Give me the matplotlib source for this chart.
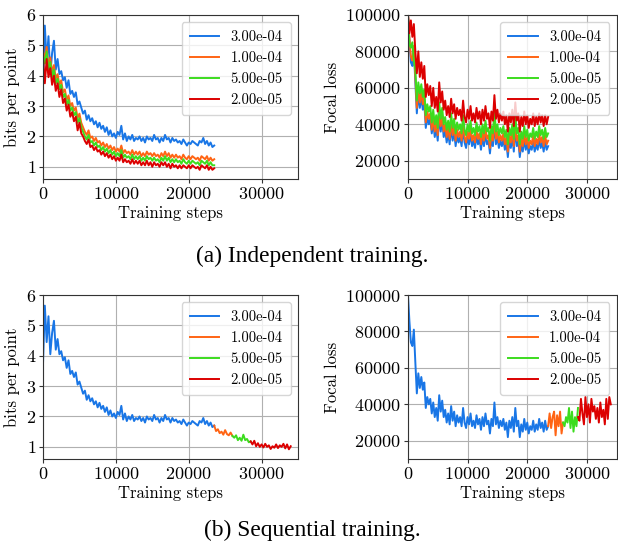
"""
Bits per point and focal loss during training
=============================================
Independent training (one run per learning rate) against sequential training
(one run, learning rate lowered step by step).
"""

import numpy as np
import matplotlib.pyplot as plt

plt.rcParams['font.family'] = 'serif'
plt.rcParams['font.serif'] = ['cmr10', 'DejaVu Serif']
plt.rcParams['mathtext.fontset'] = 'cm'
plt.rcParams['axes.formatter.use_mathtext'] = True

# %%
# Data (one value every 250 steps)

learning_rates = ['3.00e-04', '1.00e-04', '5.00e-05', '2.00e-05']
colors = ['#1976e6', '#ff6414', '#3cdc1e', '#dc0000']

steps = np.arange(0, 23501, 250)

bpp_3e4 = [3.75, 5.65, 4.45, 5.30, 4.05, 4.75, 5.15, 4.20, 4.55, 4.05, 4.15, 3.85, 3.95, 3.60, 3.85, 3.40,
           3.50, 3.30, 3.45, 3.05, 3.15, 2.95, 2.75, 2.85, 2.55, 2.70, 2.50, 2.60, 2.40, 2.50, 2.30, 2.45,
           2.25, 2.35, 2.15, 2.30, 2.05, 2.20, 2.00, 2.10, 1.95, 2.15, 2.05, 2.35, 1.90, 2.10, 1.85, 2.00,
           1.90, 2.05, 1.85, 1.95, 1.90, 2.00, 1.85, 1.95, 1.80, 2.00, 1.90, 1.95, 1.85, 2.05, 1.90, 1.95,
           1.80, 1.95, 1.85, 2.05, 1.90, 1.95, 1.80, 1.95, 1.85, 1.90, 1.80, 1.85, 1.75, 1.90, 1.80, 1.70,
           1.80, 1.75, 1.85, 1.80, 1.75, 1.70, 1.85, 1.80, 1.95, 1.75, 1.85, 1.70, 1.80, 1.65, 1.70]
bpp_1e4 = [4.85, 4.50, 4.95, 4.30, 4.60, 4.10, 4.35, 3.90, 4.05, 3.70, 3.85, 3.45, 3.55, 3.20, 3.35, 3.00,
           3.10, 2.85, 2.95, 2.60, 2.75, 2.45, 2.30, 2.15, 2.05, 2.20, 1.95, 2.00, 1.85, 1.95, 1.80, 1.85,
           1.70, 1.80, 1.65, 1.75, 1.60, 1.70, 1.55, 1.65, 1.50, 1.60, 1.50, 1.70, 1.45, 1.55, 1.45, 1.50,
           1.40, 1.55, 1.40, 1.50, 1.40, 1.50, 1.35, 1.45, 1.35, 1.50, 1.40, 1.45, 1.35, 1.45, 1.35, 1.40,
           1.30, 1.45, 1.35, 1.50, 1.35, 1.45, 1.30, 1.40, 1.30, 1.40, 1.30, 1.35, 1.25, 1.40, 1.30, 1.25,
           1.35, 1.25, 1.35, 1.30, 1.25, 1.30, 1.20, 1.35, 1.30, 1.25, 1.35, 1.20, 1.30, 1.20, 1.25]
bpp_5e5 = [4.70, 4.40, 4.80, 4.15, 4.45, 3.95, 4.20, 3.75, 3.90, 3.55, 3.70, 3.30, 3.40, 3.05, 3.20, 2.85,
           2.95, 2.70, 2.80, 2.45, 2.60, 2.30, 2.15, 2.00, 1.90, 2.05, 1.80, 1.85, 1.70, 1.80, 1.65, 1.70,
           1.55, 1.65, 1.50, 1.60, 1.45, 1.55, 1.40, 1.50, 1.35, 1.45, 1.35, 1.55, 1.30, 1.40, 1.30, 1.35,
           1.25, 1.40, 1.25, 1.35, 1.25, 1.35, 1.20, 1.30, 1.20, 1.35, 1.25, 1.30, 1.20, 1.30, 1.20, 1.25,
           1.15, 1.30, 1.20, 1.35, 1.20, 1.30, 1.15, 1.25, 1.15, 1.25, 1.15, 1.20, 1.10, 1.25, 1.15, 1.10,
           1.20, 1.10, 1.20, 1.15, 1.10, 1.15, 1.05, 1.20, 1.15, 1.10, 1.20, 1.05, 1.15, 1.05, 1.05]
bpp_2e5 = [4.60, 3.75, 4.55, 3.95, 4.25, 3.70, 4.00, 3.50, 3.75, 3.30, 3.55, 3.10, 3.25, 2.85, 3.05, 2.65,
           2.80, 2.50, 2.65, 2.20, 2.45, 2.10, 2.00, 1.85, 1.75, 1.90, 1.65, 1.70, 1.55, 1.65, 1.50, 1.55,
           1.40, 1.50, 1.35, 1.45, 1.30, 1.40, 1.25, 1.35, 1.20, 1.30, 1.20, 1.40, 1.15, 1.25, 1.15, 1.20,
           1.10, 1.25, 1.10, 1.20, 1.10, 1.20, 1.05, 1.15, 1.05, 1.20, 1.05, 1.15, 1.00, 1.15, 1.05, 1.10,
           1.00, 1.15, 1.05, 1.15, 1.00, 1.10, 0.95, 1.10, 1.00, 1.05, 0.95, 1.05, 0.95, 1.05, 1.00, 0.95,
           1.05, 0.95, 1.05, 1.00, 0.95, 1.00, 0.90, 1.05, 1.00, 0.95, 1.05, 0.90, 1.00, 0.90, 0.95]

focal_3e4 = [101000, 86000, 74000, 72000, 81000, 63000, 46000, 57000, 49000, 55000, 48000, 52000,
             38000, 44000, 40000, 43000, 35000, 41000, 33000, 38000, 31000, 45000, 36000, 42000,
             33000, 37000, 30000, 35000, 29000, 39000, 31000, 36000, 28000, 34000, 30000, 33000,
             28000, 38000, 30000, 27000, 33000, 29000, 35000, 28000, 31000, 27000, 34000, 29000,
             32000, 26000, 33000, 28000, 35000, 29000, 31000, 24000, 32000, 28000, 41000, 29000,
             33000, 27000, 31000, 28000, 32000, 26000, 30000, 22000, 31000, 27000, 33000, 25000,
             38000, 28000, 31000, 22000, 29000, 25000, 32000, 26000, 30000, 24000, 28000, 26000,
             31000, 25000, 29000, 26000, 32000, 27000, 30000, 25000, 31000, 26000, 28000]
focal_1e4 = [101000, 88000, 77000, 75000, 83000, 66000, 49000, 60000, 52000, 58000, 51000, 55000,
             41000, 47000, 43000, 46000, 37000, 44000, 36000, 41000, 34000, 48000, 39000, 45000,
             36000, 40000, 33000, 38000, 32000, 42000, 34000, 39000, 31000, 37000, 33000, 36000,
             31000, 41000, 33000, 30000, 36000, 32000, 38000, 31000, 34000, 30000, 37000, 32000,
             35000, 29000, 36000, 31000, 38000, 32000, 34000, 27000, 35000, 31000, 44000, 32000,
             36000, 30000, 34000, 31000, 35000, 29000, 33000, 25000, 34000, 30000, 36000, 28000,
             41000, 31000, 34000, 25000, 32000, 28000, 35000, 29000, 33000, 27000, 31000, 29000,
             34000, 28000, 32000, 29000, 35000, 30000, 33000, 28000, 34000, 29000, 31000]
focal_5e5 = [101000, 84000, 82000, 85000, 75000, 70000, 53000, 63000, 57000, 62000, 55000, 59000,
             45000, 51000, 47000, 50000, 41000, 48000, 40000, 45000, 38000, 52000, 43000, 49000,
             40000, 44000, 37000, 42000, 36000, 46000, 38000, 43000, 35000, 41000, 37000, 40000,
             35000, 45000, 37000, 34000, 40000, 36000, 42000, 35000, 38000, 34000, 41000, 36000,
             39000, 33000, 40000, 35000, 42000, 36000, 38000, 31000, 39000, 35000, 48000, 36000,
             40000, 34000, 38000, 35000, 39000, 33000, 37000, 29000, 38000, 34000, 40000, 32000,
             45000, 35000, 38000, 29000, 36000, 32000, 39000, 33000, 37000, 31000, 35000, 33000,
             38000, 32000, 36000, 33000, 39000, 34000, 37000, 32000, 38000, 33000, 35000]
focal_2e5 = [101000, 90000, 97000, 88000, 95000, 80000, 68000, 80000, 66000, 74000, 65000, 72000,
             55000, 62000, 56000, 61000, 50000, 60000, 49000, 55000, 47000, 63000, 52000, 58000,
             48000, 53000, 45000, 50000, 44000, 54000, 46000, 51000, 43000, 49000, 45000, 48000,
             42000, 53000, 44000, 41000, 48000, 43000, 50000, 42000, 46000, 41000, 49000, 43000,
             47000, 40000, 48000, 42000, 50000, 43000, 46000, 38000, 47000, 42000, 56000, 43000,
             48000, 41000, 46000, 42000, 47000, 40000, 45000, 36000, 46000, 41000, 48000, 39000,
             52000, 42000, 46000, 36000, 44000, 39000, 47000, 40000, 45000, 38000, 43000, 40000,
             46000, 39000, 44000, 40000, 46000, 41000, 45000, 39000, 45000, 40000, 44000]

# sequential run: 3e-4 is the same run as above, then the lower rates continue it
seq_steps = [np.arange(23500, 26001, 250), np.arange(26000, 28501, 250), np.arange(28500, 34001, 250)]
seq_bpp = [
    [1.70, 1.52, 1.58, 1.45, 1.50, 1.40, 1.55, 1.42, 1.38, 1.47, 1.36],
    [1.36, 1.30, 1.38, 1.22, 1.30, 1.20, 1.40, 1.22, 1.26, 1.15, 1.18],
    [1.18, 1.08, 1.20, 1.02, 1.12, 1.00, 1.08, 0.98, 1.10, 1.00, 1.05, 0.93, 1.02, 0.97, 1.08, 0.96,
     1.05, 1.00, 1.10, 0.95, 1.08, 0.92, 1.02],
]
seq_focal = [
    [28000, 35000, 27000, 33000, 36000, 23000, 34000, 28000, 36000, 24000, 30000],
    [30000, 28000, 33000, 30000, 38000, 27000, 36000, 25000, 33000, 28000, 38000],
    [33000, 31000, 43000, 35000, 29000, 44000, 33000, 40000, 30000, 43000, 36000, 39000, 32000,
     38000, 30000, 41000, 33000, 37000, 29000, 43000, 32000, 44000, 40000],
]

bpp_runs = [bpp_3e4, bpp_1e4, bpp_5e5, bpp_2e5]
focal_runs = [focal_3e4, focal_1e4, focal_5e5, focal_2e5]


def style_axis(ax, ylabel, ylim, yticks):
    ax.set_xlim(0, 35000)
    ax.set_ylim(*ylim)
    ax.set_xticks([0, 10000, 20000, 30000])
    ax.set_yticks(yticks)
    ax.set_xlabel('Training steps', fontsize=12, labelpad=3)
    ax.set_ylabel(ylabel, fontsize=12, labelpad=4)
    ax.tick_params(labelsize=13, length=3, color='#333333', pad=2)
    ax.grid(True, color='#b0b0b0', lw=0.8)
    ax.set_axisbelow(True)
    for sp in ax.spines.values():
        sp.set_color('#333333')
    ax.legend(loc='upper right', fontsize=10.5, handlelength=2.0, handletextpad=0.8,
              labelspacing=0.5, borderpad=0.55, framealpha=0.8, edgecolor='#cccccc')


fig = plt.figure(figsize=(6.18, 5.54), dpi=100)
ax_a1 = fig.add_axes([0.0696, 0.677, 0.4126, 0.296])
ax_a2 = fig.add_axes([0.660, 0.677, 0.338, 0.296])
ax_b1 = fig.add_axes([0.0696, 0.1715, 0.4126, 0.296])
ax_b2 = fig.add_axes([0.660, 0.1715, 0.338, 0.296])

# (a) independent training
for lr, c, bpp, focal in zip(learning_rates, colors, bpp_runs, focal_runs):
    ax_a1.plot(steps, bpp, color=c, lw=1.4, label=lr)
    ax_a2.plot(steps, focal, color=c, lw=1.4, label=lr)

# (b) sequential training
ax_b1.plot(steps, bpp_3e4, color=colors[0], lw=1.4, label=learning_rates[0])
ax_b2.plot(steps, focal_3e4, color=colors[0], lw=1.4, label=learning_rates[0])
for lr, c, x, bpp, focal in zip(learning_rates[1:], colors[1:], seq_steps, seq_bpp, seq_focal):
    ax_b1.plot(x, bpp, color=c, lw=1.4, label=lr)
    ax_b2.plot(x, focal, color=c, lw=1.4, label=lr)

for ax in (ax_a1, ax_b1):
    style_axis(ax, 'bits per point', (0.6, 6), [1, 2, 3, 4, 5, 6])
for ax in (ax_a2, ax_b2):
    style_axis(ax, 'Focal loss', (10000, 100000), [20000, 40000, 60000, 80000, 100000])

fig.text(0.505, 1 - 256 / 554, '(a) Independent training.', ha='center', va='center',
         fontsize=16.8, family='Liberation Serif')
fig.text(0.505, 1 - 530 / 554, '(b) Sequential training.', ha='center', va='center',
         fontsize=16.8, family='Liberation Serif')

fig.savefig('out.png', dpi=100)
